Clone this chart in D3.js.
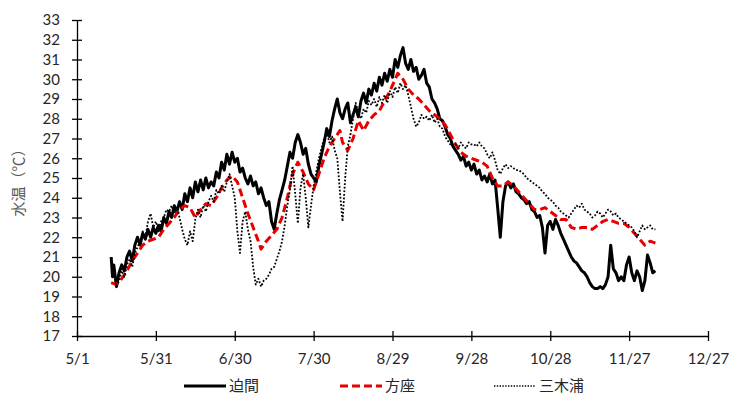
<!DOCTYPE html>
<html>
<head>
<meta charset="utf-8">
<script src="https://cdn.jsdelivr.net/npm/d3@7"></script>
<style>
  body { margin: 0; background: #fff; }
  svg { display: block; font-family: Lato, "Noto Sans CJK JP", sans-serif; }
</style>
</head>
<body>
<svg id="chart" width="745" height="397"></svg>
<script>
// x values are days counted from 5/1
const xTickDays = [0, 30, 60, 90, 120, 150, 180, 210, 240];
const xTickLabels = ["5/1", "5/31", "6/30", "7/30", "8/29", "9/28", "10/28", "11/27", "12/27"];
const yTicks = [17, 18, 19, 20, 21, 22, 23, 24, 25, 26, 27, 28, 29, 30, 31, 32, 33];
const seriesNames = ["迫間", "方座", "三木浦"];

// 迫間
const hazama = [
  [13,21.0],[13.5,20.0],[14,20.6],[15,19.5],[16,20.2],[17,20.6],[18,20.3],[19,21.0],[20,21.3],[21,20.8],
  [22,21.6],[23,22.0],[24,21.6],[25,22.2],[26,21.9],[27,22.4],[28,22.0],[29,22.5],[30,22.2],[31,22.6],
  [32,22.3],[33,23.0],[34,22.7],[35,23.3],[36,23.0],[37,23.6],[38,23.3],[39,23.8],[40,23.4],[41,24.2],
  [42,23.8],[43,24.5],[44,24.0],[45,24.8],[46,24.3],[47,24.9],[48,24.4],[49,25.0],[50,24.5],[51,24.8],
  [52,24.6],[53,25.3],[54,25.0],[55,25.8],[56,25.4],[57,26.2],[58,25.7],[59,26.3],[60,25.8],[61,26.0],
  [62,25.3],[63,25.5],[64,25.0],[65,24.7],[66,25.1],[67,24.6],[68,24.8],[69,24.2],[70,24.5],[71,24.0],
  [72,23.6],[73,23.8],[74,22.8],[75,22.4],[76,23.2],[77,23.9],[78,24.4],[79,24.9],[80,25.6],[81,26.3],
  [82,26.0],[83,26.8],[84,27.2],[85,26.8],[86,26.2],[87,26.5],[88,25.7],[89,25.2],[90,25.0],[91,24.8],
  [92,25.6],[93,26.2],[94,26.8],[95,27.5],[96,27.1],[97,27.9],[98,28.5],[99,29.0],[100,28.3],[101,28.0],
  [102,28.5],[103,28.8],[104,27.8],[105,28.2],[106,28.6],[107,28.1],[108,28.9],[109,29.3],[110,28.8],[111,29.5],
  [112,29.2],[113,29.8],[114,29.4],[115,30.1],[116,29.7],[117,30.3],[118,29.9],[119,30.5],[120,30.1],[121,31.0],
  [122,30.6],[123,31.2],[124,31.6],[125,30.8],[126,30.5],[127,31.0],[128,30.4],[129,30.6],[130,30.0],[131,30.2],
  [132,30.5],[133,29.8],[134,29.6],[135,29.0],[136,28.8],[137,28.5],[138,28.0],[139,27.9],[140,27.6],[141,27.2],
  [142,27.0],[143,26.6],[144,26.4],[145,26.2],[146,25.9],[147,26.1],[148,25.6],[149,25.8],[150,25.4],[151,25.7],
  [152,25.2],[153,25.4],[154,24.9],[155,25.1],[156,24.8],[157,25.2],[158,24.7],[159,24.9],[160,23.5],[161,22.0],
  [162,23.8],[163,24.6],[164,24.8],[165,24.5],[166,24.7],[167,24.3],[168,24.2],[169,24.0],[170,23.9],[171,23.7],
  [172,23.8],[173,23.4],[174,23.3],[175,23.0],[176,23.1],[177,22.5],[178,21.2],[179,22.6],[180,22.8],[181,22.4],
  [182,22.9],[183,22.6],[184,22.2],[185,21.9],[186,21.6],[187,21.3],[188,21.0],[189,20.8],[190,20.7],[191,20.5],
  [192,20.3],[193,20.2],[194,20.0],[195,19.7],[196,19.5],[197,19.4],[198,19.4],[199,19.5],[200,19.4],[201,19.6],
  [202,20.0],[203,21.6],[204,20.4],[205,20.2],[206,19.8],[207,20.0],[208,19.8],[209,20.6],[210,21.0],[211,20.2],
  [212,19.8],[213,20.3],[214,20.0],[215,19.3],[216,19.8],[217,21.1],[218,20.7],[219,20.2],[220,20.3]
];

// 方座
const houza = [
  [13,19.7],[15,19.6],[17,19.9],[19,20.3],[21,20.8],[23,21.2],[25,21.6],[27,21.8],[29,21.9],[31,22.0],
  [33,22.4],[35,22.7],[37,23.0],[39,23.4],[41,23.6],[43,23.5],[45,23.0],[47,23.4],[49,23.7],[51,23.6],
  [53,24.0],[55,24.5],[57,24.9],[59,25.1],[61,24.8],[63,24.0],[65,23.2],[67,22.5],[69,21.8],[70,21.4],
  [72,21.8],[74,22.1],[76,22.4],[78,23.0],[80,24.0],[82,25.2],[84,25.8],[86,25.3],[88,24.7],[90,24.4],
  [92,25.2],[94,26.0],[96,26.6],[98,27.0],[100,27.4],[101,26.8],[103,26.4],[105,27.0],[107,27.9],[109,27.4],
  [111,27.9],[113,28.2],[115,28.4],[117,28.9],[119,29.4],[121,30.0],[122,30.3],[124,30.0],[126,29.5],[128,29.2],
  [130,29.0],[132,28.7],[134,28.4],[136,28.2],[138,28.0],[140,27.7],[142,27.2],[144,26.7],[146,26.3],[148,26.1],
  [150,26.0],[152,25.9],[154,25.8],[156,25.6],[158,25.0],[160,24.6],[162,24.6],[164,24.8],[166,24.6],[168,24.3],
  [170,24.0],[172,23.7],[174,23.4],[176,23.4],[178,23.5],[180,23.3],[182,23.1],[184,22.9],[186,22.9],[188,22.5],
  [190,22.4],[192,22.5],[194,22.5],[196,22.4],[198,22.6],[200,22.8],[202,22.9],[204,22.8],[206,22.7],[208,22.7],
  [210,22.5],[212,22.2],[214,21.9],[216,21.6],[218,21.8],[220,21.7]
];

// 三木浦
const mikiura = [
  [14,20.4],[15,19.5],[16,19.8],[17,20.3],[18,20.0],[19,20.6],[20,20.9],[21,20.5],[22,21.2],[23,21.5],
  [24,21.8],[25,22.3],[26,22.0],[27,22.8],[28,23.2],[29,22.5],[30,22.8],[31,22.3],[32,22.8],[33,23.0],
  [34,23.4],[35,23.3],[36,23.6],[37,23.2],[38,23.5],[39,23.0],[40,22.4],[41,21.9],[42,21.6],[43,22.3],
  [44,21.8],[45,22.9],[46,23.4],[47,23.0],[48,23.6],[49,23.3],[50,23.8],[51,24.1],[52,23.8],[53,24.4],
  [54,24.2],[55,24.6],[56,24.3],[57,24.8],[58,25.2],[59,24.6],[60,24.0],[61,22.3],[62,21.2],[63,22.8],
  [64,23.3],[65,22.4],[66,21.8],[67,20.5],[68,19.6],[69,19.9],[70,19.5],[71,19.8],[72,19.9],[73,20.1],
  [74,20.4],[75,20.5],[76,20.9],[77,21.3],[78,21.8],[79,22.6],[80,23.6],[81,24.4],[82,25.6],[83,24.2],
  [84,22.7],[85,24.5],[86,25.2],[87,24.0],[88,22.5],[89,23.6],[90,24.6],[91,25.3],[92,26.0],[93,26.5],
  [94,27.0],[95,27.3],[96,26.8],[97,27.1],[98,26.4],[99,26.0],[100,24.3],[101,22.8],[102,25.0],[103,26.6],
  [104,27.2],[105,28.0],[106,28.8],[107,28.3],[108,28.0],[109,28.5],[110,28.3],[111,28.9],[112,28.7],[113,29.0],
  [114,28.6],[115,29.1],[116,28.8],[117,29.2],[118,28.8],[119,29.4],[120,29.1],[121,29.6],[122,29.3],[123,29.8],
  [124,29.5],[125,29.7],[126,29.2],[127,28.6],[128,28.0],[129,27.6],[130,27.8],[131,28.2],[132,28.0],[133,28.1],
  [134,27.9],[135,28.2],[136,27.8],[137,28.0],[138,27.6],[139,27.5],[140,27.1],[141,26.9],[142,26.7],[143,26.6],
  [144,26.7],[145,26.5],[146,26.8],[147,26.6],[148,26.5],[149,26.8],[150,26.7],[151,26.7],[152,26.6],[153,26.8],
  [154,26.6],[155,26.5],[156,26.2],[157,26.0],[158,26.3],[159,25.9],[160,25.4],[161,25.2],[162,25.5],[163,25.7],
  [164,25.5],[165,25.6],[166,25.5],[167,25.4],[168,25.4],[169,25.3],[170,25.2],[171,25.0],[172,24.9],[173,24.8],
  [174,24.7],[175,24.6],[176,24.5],[177,24.3],[178,24.2],[179,24.0],[180,23.9],[181,23.8],[182,23.6],[183,23.5],
  [184,23.3],[185,23.2],[186,23.1],[187,23.0],[188,23.2],[189,23.4],[190,23.6],[191,23.5],[192,23.7],[193,23.4],
  [194,23.3],[195,23.2],[196,23.0],[197,23.1],[198,23.3],[199,23.2],[200,23.0],[201,23.2],[202,23.4],[203,23.3],
  [204,23.1],[205,23.2],[206,23.0],[207,22.9],[208,22.8],[209,22.7],[210,22.6],[211,22.5],[212,22.3],[213,22.0],
  [214,22.3],[215,22.6],[216,22.4],[217,22.5],[218,22.6],[219,22.4],[220,22.4]
];

const svg = d3.select("#chart");

const x = d3.scaleLinear().domain([0, 240]).range([77, 708]);
const y = d3.scaleLinear().domain([17, 33]).range([336, 20]);

// x axis
const xAxis = svg.append("g")
  .attr("transform", "translate(0,336)")
  .call(d3.axisBottom(x)
    .tickValues(xTickDays)
    .tickFormat((d, i) => xTickLabels[i])
    .tickSizeOuter(0)
    .tickSizeInner(5)
    .tickPadding(12));
xAxis.selectAll(".tick line").attr("y1", -5);
xAxis.selectAll("text").attr("font-size", 15).attr("fill", "#262626").attr("font-family", "Lato, sans-serif");

// y axis
const yAxis = svg.append("g")
  .attr("transform", "translate(77,0)")
  .call(d3.axisLeft(y)
    .tickValues(yTicks)
    .tickSizeOuter(0)
    .tickSizeInner(5)
    .tickPadding(12));
yAxis.selectAll(".tick line").attr("x1", 5);
yAxis.selectAll("text").attr("font-size", 15).attr("fill", "#262626").attr("font-family", "Lato, sans-serif");

svg.selectAll(".domain, .tick line").attr("stroke", "#000").attr("stroke-width", 1.3);

// y title
svg.append("text")
  .attr("transform", "translate(24,179) rotate(-90)")
  .attr("text-anchor", "middle")
  .attr("font-size", 15)
  .attr("fill", "#595959")
  .text("水温（℃）");

const line = d3.line().x(d => x(d[0])).y(d => y(d[1]));

const styles = [
  { color: "#000", width: 3, dash: null },
  { color: "#e60000", width: 3, dash: "8,4" },
  { color: "#000", width: 1.8, dash: "1.8,1.8" }
];
const allSeries = [hazama, houza, mikiura];

allSeries.forEach((s, i) => {
  svg.append("path")
    .datum(s)
    .attr("fill", "none")
    .attr("stroke", styles[i].color)
    .attr("stroke-width", styles[i].width)
    .attr("stroke-linejoin", "round")
    .attr("stroke-dasharray", styles[i].dash)
    .attr("d", line);
});

// legend
const legendX = [184, 340, 494];
const legend = svg.append("g").attr("transform", "translate(0,386)");
seriesNames.forEach((name, i) => {
  legend.append("line")
    .attr("x1", legendX[i]).attr("x2", legendX[i] + 42)
    .attr("y1", 0).attr("y2", 0)
    .attr("stroke", styles[i].color)
    .attr("stroke-width", i === 2 ? 1.4 : styles[i].width)
    .attr("stroke-dasharray", i === 2 ? "1.4,1.4" : styles[i].dash);
  legend.append("text")
    .attr("x", legendX[i] + 45)
    .attr("y", 0)
    .attr("dy", "0.35em")
    .attr("font-size", 15)
    .attr("fill", "#262626")
    .text(name);
});
</script>
</body>
</html>
